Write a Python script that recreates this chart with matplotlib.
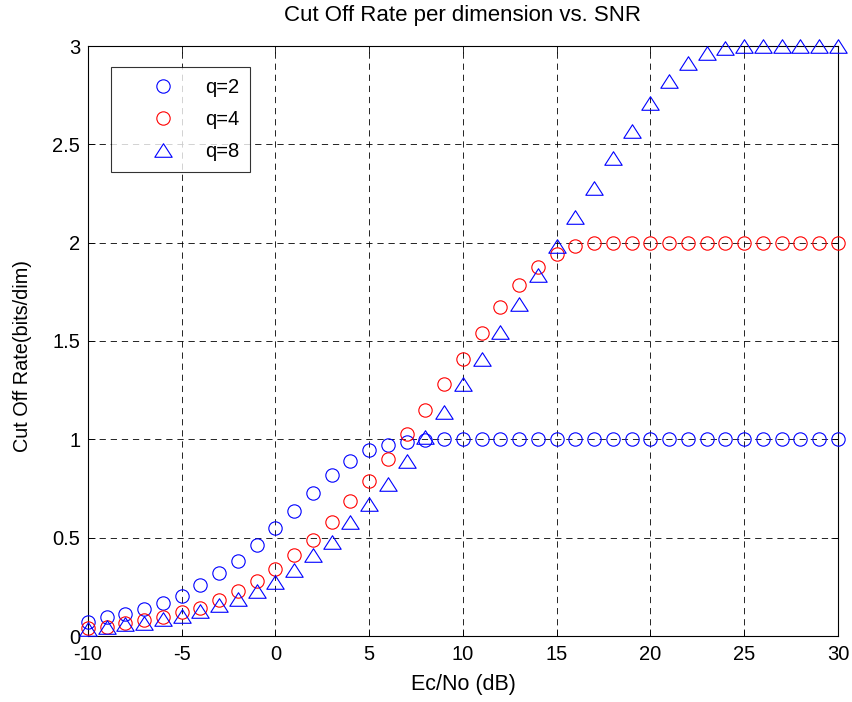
import matplotlib
matplotlib.use("Agg")
import matplotlib.pyplot as plt
from matplotlib.path import Path
import numpy as np

plt.rcParams['font.family'] = ['Liberation Sans', 'DejaVu Sans']
plt.rcParams['lines.scale_dashes'] = False
plt.rcParams['axes.unicode_minus'] = False

snr_db = list(range(-10, 31))

q2 = [0.073, 0.095, 0.112, 0.137, 0.170, 0.203, 0.258, 0.319, 0.380, 0.461,
      0.549, 0.634, 0.729, 0.820, 0.892, 0.944, 0.970, 0.988, 0.998, 1.0,
      1.0, 1.0, 1.0, 1.0, 1.0, 1.0, 1.0, 1.0, 1.0, 1.0,
      1.0, 1.0, 1.0, 1.0, 1.0, 1.0, 1.0, 1.0, 1.0, 1.0, 1.0]

q4 = [0.043, 0.048, 0.068, 0.083, 0.095, 0.124, 0.143, 0.184, 0.228, 0.280,
      0.340, 0.413, 0.490, 0.578, 0.685, 0.790, 0.902, 1.025, 1.148, 1.279,
      1.410, 1.543, 1.675, 1.787, 1.876, 1.940, 1.982, 1.996, 2.0, 2.0,
      2.0, 2.0, 2.0, 2.0, 2.0, 2.0, 2.0, 2.0, 2.0, 2.0, 2.0]

q8 = [0.034, 0.048, 0.060, 0.068, 0.085, 0.104, 0.128, 0.158, 0.187, 0.230,
      0.275, 0.336, 0.411, 0.479, 0.578, 0.673, 0.775, 0.890, 1.014, 1.139,
      1.279, 1.410, 1.548, 1.687, 1.834, 1.983, 2.130, 2.280, 2.432, 2.570,
      2.710, 2.823, 2.913, 2.964, 2.990, 2.998, 3.0, 3.0, 3.0, 3.0, 3.0]

labels = ['q=2', 'q=4', 'q=8']
xticks = [-10, -5, 0, 5, 10, 15, 20, 25, 30]
yticks = [0, 0.5, 1, 1.5, 2, 2.5, 3]
ytick_labels = ['0', '0.5', '1', '1.5', '2', '2.5', '3']

tri = Path([(0, 0.78), (-1, -0.78), (1, -0.78), (0, 0.78)],
           [Path.MOVETO, Path.LINETO, Path.LINETO, Path.CLOSEPOLY])

fig = plt.figure(figsize=(8.53, 7.02), dpi=100)
ax = fig.add_axes([88/853, 1-636/702, (838-88)/853, (636-46)/702])

ax.plot(snr_db, q2, linestyle='none', marker='o', ms=9.6, mfc='none',
        mec=(0, 0, 1), mew=0.8, label=labels[0], clip_on=False, zorder=3)
ax.plot(snr_db, q4, linestyle='none', marker='o', ms=9.6, mfc='none',
        mec=(1, 0, 0), mew=0.8, label=labels[1], clip_on=False, zorder=3)
ax.plot(snr_db, q8, linestyle='none', marker=tri, ms=12.5, mfc='none',
        mec=(0, 0, 1), mew=0.8, label=labels[2], clip_on=False, zorder=3)

ax.set_xlim(-10, 30)
ax.set_ylim(0, 3)
ax.set_xticks(xticks)
ax.set_yticks(yticks)
ax.set_yticklabels(ytick_labels)
ax.tick_params(direction='in', top=True, right=True, length=5, width=0.6,
               labelsize=14.5)
ax.tick_params(axis='x', pad=6.5)
ax.tick_params(axis='y', pad=5.5)
ax.grid(True, color='black', linestyle=(0, (4.5, 3.5)), linewidth=0.6)
ax.set_axisbelow(True)
for s in ax.spines.values():
    s.set_linewidth(0.8)

ax.set_title('Cut Off Rate per dimension vs. SNR', fontsize=16, pad=18)
ax.set_xlabel('Ec/No (dB)', fontsize=15.5, labelpad=7)
ax.set_ylabel('Cut Off Rate(bits/dim)', fontsize=14.3)
ax.yaxis.set_label_coords(-0.074, 0.474)

leg = ax.legend(loc='upper left', bbox_to_anchor=((111.5-88)/750, 1-(66.5-46)/590),
                fontsize=14.5, frameon=True, fancybox=False, edgecolor='black',
                borderpad=0.55, labelspacing=0.65, handletextpad=0.1,
                handlelength=4.0, borderaxespad=0)
leg.get_frame().set_linewidth(0.8)

fig.savefig('out.png', dpi=100, facecolor='white')
